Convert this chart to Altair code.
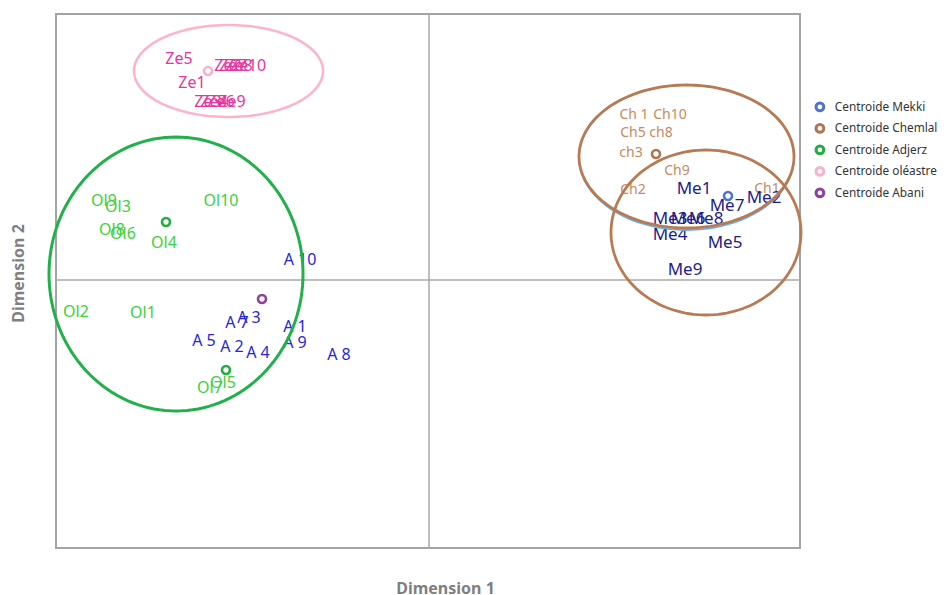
import altair as alt
import pandas as pd
import numpy as np

# ---------------- data (in "Dimension" units) ----------------
ze_labels = ["Ze5", "Ze1", "Ze2", "Ze7", "Ze8", "Ze10", "Ze3", "Ze4", "Ze6", "Ze9"]
ze_x = [-2.50, -2.37, -2.01, -1.96, -1.90, -1.81, -2.21, -2.15, -2.08, -1.97]
ze_y = [2.21, 1.97, 2.14, 2.14, 2.14, 2.14, 1.78, 1.78, 1.78, 1.78]

ol_labels = ["Ol9", "Ol3", "Ol8", "Ol6", "Ol10", "Ol4", "Ol2", "Ol1", "Ol7", "Ol5"]
ol_x = [-3.25, -3.11, -3.17, -3.06, -2.08, -2.65, -3.53, -2.86, -2.19, -2.06]
ol_y = [0.79, 0.73, 0.50, 0.46, 0.79, 0.37, -0.32, -0.33, -1.08, -1.03]

ab_labels = ["A  10", "A  1", "A  9", "A  8", "A  4", "A  2", "A  5", "A  7", "A  3"]
ab_x = [-1.29, -1.34, -1.34, -0.90, -1.71, -1.97, -2.25, -1.92, -1.80]
ab_y = [0.20, -0.47, -0.63, -0.75, -0.73, -0.67, -0.61, -0.43, -0.38]

ch_labels = ["Ch 1", "Ch10", "Ch5", "ch8", "ch3", "Ch9", "Ch2", "Ch1"]
ch_x = [2.05, 2.41, 2.04, 2.32, 2.02, 2.48, 2.04, 3.38]
ch_y = [1.65, 1.65, 1.47, 1.47, 1.27, 1.09, 0.90, 0.91]

me_labels = ["Me1", "Me7", "Me2", "Me3", "Me6", "Me8", "Me4", "Me5", "Me9"]
me_x = [2.65, 2.98, 3.35, 2.41, 2.59, 2.77, 2.41, 2.96, 2.56]
me_y = [0.91, 0.74, 0.82, 0.61, 0.61, 0.61, 0.45, 0.37, 0.10]

# centroids
cen_group = ["Centroide Mekki", "Centroide Chemlal", "Centroide Adjerz",
             "Centroide Adjerz", "Centroide oléastre", "Centroide Abani"]
cen_x = [2.99, 2.27, -2.63, -2.03, -2.21, -1.67]
cen_y = [0.84, 1.26, 0.58, -0.90, 2.09, -0.19]

legend_names = ["Centroide Mekki", "Centroide Chemlal", "Centroide Adjerz",
                "Centroide oléastre", "Centroide Abani"]
legend_colors = ["#4f74cc", "#b0754f", "#1fae3f", "#f7b2ca", "#8e3f9f"]

# confidence ellipses: centre, radii
ell_names = ["oleastre", "adjerz", "mekki", "chemlal", "chemlal2"]
ell_cx = [-2.005, -2.53, 2.575, 2.575, 2.77]
ell_cy = [2.09, 0.06, 1.225, 1.235, 0.475]
ell_rx = [0.945, 1.27, 1.075, 1.075, 0.95]
ell_ry = [0.46, 1.37, 0.725, 0.715, 0.825]
ell_col = ["#ffb3c7", "#22b04a", "#5fb4ee", "#b87a52", "#b87a52"]
ell_w = [2.5, 3.0, 1.8, 2.8, 2.8]

# ---------------- frames ----------------
labels_df = pd.concat([
    pd.DataFrame({"x": ze_x, "y": ze_y, "t": ze_labels, "col": "#e535a0", "fs": 16}),
    pd.DataFrame({"x": ol_x, "y": ol_y, "t": ol_labels, "col": "#3dd13d", "fs": 16}),
    pd.DataFrame({"x": ab_x, "y": ab_y, "t": ab_labels, "col": "#2626e0", "fs": 16}),
    pd.DataFrame({"x": ch_x, "y": ch_y, "t": ch_labels, "col": "#c68a5e", "fs": 14}),
    pd.DataFrame({"x": me_x, "y": me_y, "t": me_labels, "col": "#1c1c8a", "fs": 17}),
], ignore_index=True)

cen_df = pd.DataFrame({"x": cen_x, "y": cen_y, "grp": cen_group})

theta = np.linspace(0, 2 * np.pi, 145)
ell_frames = []
for n, cx, cy, rx, ry in zip(ell_names, ell_cx, ell_cy, ell_rx, ell_ry):
    ell_frames.append(pd.DataFrame({"e": n, "i": np.arange(len(theta)),
                                    "x": cx + rx * np.cos(theta),
                                    "y": cy + ry * np.sin(theta)}))

XS = alt.Scale(domain=[-3.73, 3.71], nice=False, zero=False)
YS = alt.Scale(domain=[-2.68, 2.66], nice=False, zero=False)
AX = alt.Axis(title="Dimension 1", labels=False, ticks=False, domain=False, grid=False,
              titleFont="Noto Sans", titleFontSize=16, titleFontWeight="bold",
              titleColor="#7f7f7f", titleX=389, titleY=40, titleBaseline="middle",
              titleAlign="center")
AY = alt.Axis(title="Dimension 2", labels=False, ticks=False, domain=False, grid=False,
              titleFont="Noto Sans", titleFontSize=16, titleFontWeight="bold",
              titleColor="#7f7f7f", titleX=-38, titleY=259, titleAngle=270,
              titleBaseline="middle", titleAlign="center")


def X(f="x"):
    return alt.X(f + ":Q", scale=XS, axis=AX)


def Y(f="y"):
    return alt.Y(f + ":Q", scale=YS, axis=AY)


vrule = alt.Chart(pd.DataFrame({"x": [0.0]})).mark_rule(color="#a8a8a8", strokeWidth=1.5).encode(x=X())
hrule = alt.Chart(pd.DataFrame({"y": [0.0]})).mark_rule(color="#a8a8a8", strokeWidth=1.5).encode(y=Y())

texts = alt.Chart(labels_df).mark_text(font="Noto Sans", align="center", baseline="middle").encode(
    x=X(), y=Y(), text="t:N",
    color=alt.Color("col:N", scale=None),
    size=alt.Size("fs:Q", scale=None),
)

ell_layers = []
for df, c, w in zip(ell_frames, ell_col, ell_w):
    ell_layers.append(
        alt.Chart(df).mark_line(color=c, strokeWidth=w, interpolate="linear").encode(
            x=X(), y=Y(), order="i:Q"
        )
    )

cents = alt.Chart(cen_df).mark_point(filled=False, strokeWidth=2.6, size=64, opacity=1).encode(
    x=X(), y=Y(),
    color=alt.Color("grp:N", scale=alt.Scale(domain=legend_names, range=legend_colors),
                    legend=alt.Legend(title=None, orient="none", legendX=758, legendY=87,
                                      symbolType="circle", symbolSize=60, symbolStrokeWidth=3,
                                      labelFont="Noto Sans", labelFontSize=11.8,
                                      labelColor="#333333", rowPadding=1.5, labelOffset=9,
                                      labelLimit=200, padding=0)),
)

chart = alt.layer(vrule, hrule, texts, *ell_layers, cents).resolve_scale(
    color="independent"
).properties(
    width=744, height=534,
    autosize=alt.AutoSizeParams(type="none"),
    padding={"left": 48, "top": 6, "right": 140, "bottom": 47},
).configure_view(stroke="#a3a3a3", strokeWidth=2)

chart.save("out.html", embed_options={"renderer": "svg", "actions": False})
